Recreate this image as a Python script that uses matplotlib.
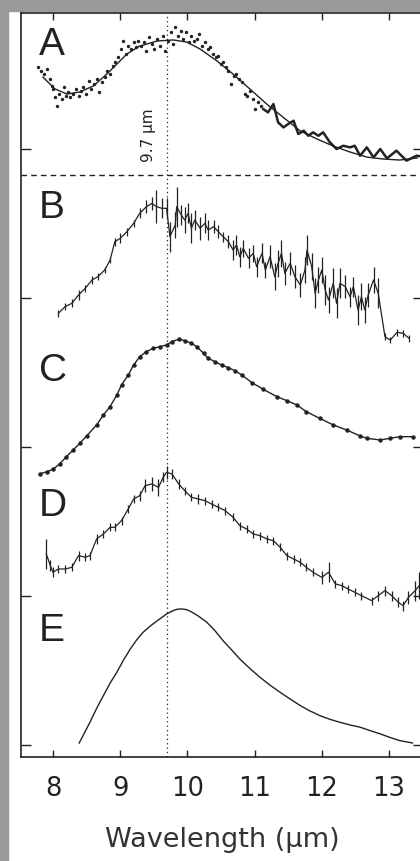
import numpy as np
import matplotlib
matplotlib.use("Agg")
import matplotlib.pyplot as plt
from matplotlib.patches import Rectangle

# --- data (wavelength in um, signal in panel units above each baseline) ---
panel_names = ["A", "B", "C", "D", "E"]
panel_base = [4.0, 3.0, 2.0, 1.0, 0.0]

a_fit_w = [7.85, 8.03, 8.21, 8.40, 8.60, 8.80, 8.95, 9.10, 9.29, 9.55, 9.79, 9.99, 10.19,
           10.44, 10.68, 10.93, 11.18, 11.42, 11.68, 11.93, 12.17, 12.42, 12.67, 12.91, 13.16, 13.42]
a_fit_v = [0.483, 0.403, 0.369, 0.383, 0.423, 0.503, 0.570, 0.638, 0.691, 0.725, 0.732, 0.718, 0.671,
           0.591, 0.503, 0.403, 0.302, 0.215, 0.121, 0.067, 0.020, -0.020, -0.054, -0.067, -0.074, -0.060]

a_dot_w = [7.78, 7.82, 7.86, 7.91, 7.95, 7.98, 8.00, 8.03, 8.06, 8.09, 8.13, 8.16, 8.19, 8.23, 8.26,
           8.30, 8.34, 8.38, 8.41, 8.45, 8.49, 8.53, 8.57, 8.61, 8.65, 8.69, 8.73, 8.77, 8.81, 8.85,
           8.89, 8.93, 8.97, 9.01, 9.04, 9.08, 9.12, 9.16, 9.20, 9.24, 9.27, 9.31, 9.35, 9.39, 9.43,
           9.47, 9.51, 9.55, 9.59, 9.63, 9.67, 9.71, 9.75, 9.79, 9.82, 9.86, 9.90, 9.94, 9.98, 10.02,
           10.06, 10.10, 10.14, 10.18, 10.22, 10.26, 10.30, 10.34, 10.38, 10.42, 10.46, 10.50, 10.53,
           10.57, 10.61, 10.65, 10.69, 10.73, 10.77, 10.81, 10.85, 10.89, 10.93, 10.97, 11.01, 11.05, 11.09]
a_dot_v = [0.548, 0.526, 0.503, 0.537, 0.470, 0.425, 0.403, 0.347, 0.291, 0.369, 0.336, 0.414, 0.358,
           0.380, 0.347, 0.369, 0.403, 0.358, 0.391, 0.414, 0.369, 0.459, 0.403, 0.436, 0.470, 0.380,
           0.447, 0.481, 0.526, 0.503, 0.559, 0.582, 0.615, 0.671, 0.727, 0.638, 0.694, 0.671, 0.716,
           0.682, 0.727, 0.694, 0.716, 0.660, 0.749, 0.705, 0.671, 0.738, 0.694, 0.761, 0.660, 0.727,
           0.783, 0.705, 0.817, 0.761, 0.794, 0.738, 0.783, 0.716, 0.761, 0.727, 0.738, 0.772, 0.694,
           0.716, 0.671, 0.682, 0.638, 0.615, 0.626, 0.570, 0.582, 0.548, 0.526, 0.436, 0.492, 0.503,
           0.470, 0.447, 0.369, 0.358, 0.391, 0.336, 0.268, 0.313, 0.291]

a_line_w = [11.13, 11.20, 11.28, 11.35, 11.43, 11.50, 11.58, 11.65, 11.73, 11.80, 11.87, 11.95, 12.02,
            12.12, 12.22, 12.32, 12.42, 12.49, 12.57, 12.67, 12.77, 12.87, 12.97, 13.11, 13.26, 13.41, 13.47]
a_line_v = [0.268, 0.246, 0.302, 0.179, 0.145, 0.168, 0.190, 0.101, 0.123, 0.089, 0.112, 0.089, 0.112,
            0.045, 0.000, 0.022, 0.011, 0.022, -0.045, 0.011, -0.056, 0.000, -0.063, -0.011, -0.078, -0.045, -0.049]

b_w = [8.08, 8.18, 8.28, 8.38, 8.48, 8.58, 8.67, 8.77, 8.85, 8.92, 9.00, 9.10, 9.20, 9.29, 9.39, 9.47,
       9.54, 9.62, 9.69, 9.74, 9.82, 9.84, 9.91, 9.96, 10.01, 10.06, 10.11, 10.19, 10.26, 10.31, 10.39,
       10.46, 10.53, 10.61, 10.68, 10.73, 10.78, 10.83, 10.91, 10.98, 11.03, 11.11, 11.16, 11.23, 11.30,
       11.35, 11.40, 11.45, 11.53, 11.60, 11.68, 11.75, 11.78, 11.85, 11.90, 11.95, 12.00, 12.05, 12.10,
       12.17, 12.22, 12.27, 12.35, 12.42, 12.47, 12.54, 12.59, 12.64, 12.69, 12.77, 12.84, 12.94, 13.02,
       13.12, 13.21, 13.30]
b_v = [-0.103, -0.058, -0.036, 0.020, 0.065, 0.121, 0.143, 0.188, 0.255, 0.378, 0.400, 0.445, 0.501,
       0.568, 0.613, 0.635, 0.613, 0.602, 0.602, 0.412, 0.490, 0.613, 0.557, 0.523, 0.568, 0.468, 0.523,
       0.468, 0.501, 0.456, 0.479, 0.445, 0.412, 0.378, 0.322, 0.356, 0.277, 0.333, 0.266, 0.300, 0.210,
       0.300, 0.188, 0.277, 0.143, 0.233, 0.300, 0.166, 0.233, 0.143, 0.087, 0.188, 0.322, 0.210, 0.031,
       0.121, 0.188, 0.054, -0.013, 0.098, -0.036, 0.098, 0.076, 0.009, 0.076, -0.081, 0.009, -0.081,
       0.020, 0.121, 0.031, -0.260, -0.282, -0.230, -0.237, -0.271]
b_err = [0.022, 0.022, 0.027, 0.034, 0.022, 0.027, 0.022, 0.022, 0.022, 0.027, 0.034, 0.027, 0.022,
         0.034, 0.045, 0.045, 0.112, 0.067, 0.067, 0.100, 0.089, 0.134, 0.067, 0.089, 0.067, 0.100,
         0.067, 0.078, 0.067, 0.067, 0.045, 0.045, 0.034, 0.045, 0.067, 0.067, 0.067, 0.056, 0.067,
         0.056, 0.067, 0.067, 0.056, 0.078, 0.089, 0.089, 0.089, 0.078, 0.078, 0.078, 0.078, 0.089,
         0.100, 0.089, 0.100, 0.089, 0.089, 0.100, 0.089, 0.100, 0.100, 0.100, 0.078, 0.067, 0.067,
         0.100, 0.089, 0.089, 0.078, 0.089, 0.100, 0.022, 0.022, 0.022, 0.022, 0.022]

c_w = [7.80, 7.91, 8.00, 8.10, 8.20, 8.30, 8.40, 8.50, 8.65, 8.75, 8.85, 8.95, 9.02, 9.12, 9.20, 9.29,
       9.39, 9.49, 9.59, 9.69, 9.77, 9.87, 9.96, 10.06, 10.14, 10.24, 10.31, 10.41, 10.51, 10.61, 10.71,
       10.81, 10.96, 11.13, 11.33, 11.48, 11.63, 11.77, 11.97, 12.17, 12.37, 12.57, 12.67, 12.87, 13.01,
       13.16, 13.36]
c_v = [-0.181, -0.166, -0.150, -0.114, -0.065, -0.020, 0.025, 0.074, 0.148, 0.215, 0.271, 0.349, 0.416,
       0.483, 0.550, 0.606, 0.640, 0.662, 0.673, 0.685, 0.707, 0.723, 0.714, 0.696, 0.673, 0.629, 0.595,
       0.573, 0.550, 0.532, 0.512, 0.483, 0.432, 0.387, 0.338, 0.311, 0.282, 0.237, 0.192, 0.148, 0.114,
       0.074, 0.058, 0.047, 0.058, 0.069, 0.069]

d_w = [7.90, 7.96, 8.00, 8.08, 8.18, 8.28, 8.38, 8.48, 8.55, 8.65, 8.75, 8.85, 8.92, 9.02, 9.12, 9.20,
       9.29, 9.37, 9.47, 9.57, 9.64, 9.69, 9.77, 9.87, 9.96, 10.06, 10.16, 10.26, 10.36, 10.46, 10.56,
       10.68, 10.78, 10.88, 10.98, 11.08, 11.18, 11.28, 11.38, 11.48, 11.58, 11.68, 11.77, 11.87, 12.00,
       12.10, 12.20, 12.30, 12.39, 12.49, 12.59, 12.74, 12.84, 12.94, 13.04, 13.14, 13.21, 13.29, 13.39, 13.45]
d_v = [0.283, 0.204, 0.159, 0.181, 0.181, 0.192, 0.271, 0.260, 0.271, 0.383, 0.416, 0.461, 0.461, 0.506,
       0.584, 0.651, 0.673, 0.740, 0.752, 0.729, 0.796, 0.830, 0.819, 0.752, 0.707, 0.662, 0.651, 0.640,
       0.617, 0.595, 0.573, 0.528, 0.472, 0.450, 0.416, 0.405, 0.383, 0.371, 0.327, 0.271, 0.248, 0.226,
       0.192, 0.159, 0.125, 0.159, 0.081, 0.069, 0.047, 0.025, 0.002, -0.031, 0.002, 0.036, 0.002, -0.043,
       -0.065, -0.009, 0.036, 0.069]
d_err = [0.100, 0.034, 0.034, 0.027, 0.027, 0.027, 0.034, 0.027, 0.027, 0.034, 0.027, 0.027, 0.027,
         0.027, 0.027, 0.027, 0.034, 0.045, 0.045, 0.056, 0.034, 0.045, 0.034, 0.034, 0.027, 0.027,
         0.034, 0.027, 0.027, 0.027, 0.027, 0.027, 0.027, 0.027, 0.027, 0.027, 0.027, 0.027, 0.027,
         0.027, 0.027, 0.027, 0.027, 0.027, 0.045, 0.067, 0.027, 0.027, 0.027, 0.027, 0.027, 0.027,
         0.034, 0.034, 0.034, 0.034, 0.034, 0.045, 0.067, 0.089]

e_w = [8.39, 8.55, 8.65, 8.75, 8.85, 8.95, 9.05, 9.15, 9.25, 9.34, 9.47, 9.59, 9.69, 9.79, 9.84, 9.91,
       9.99, 10.06, 10.16, 10.29, 10.41, 10.53, 10.66, 10.78, 10.93, 11.08, 11.23, 11.38, 11.53, 11.68,
       11.82, 11.97, 12.12, 12.27, 12.42, 12.57, 12.72, 12.87, 13.01, 13.16, 13.35]
e_v = [0.013, 0.152, 0.246, 0.331, 0.415, 0.488, 0.570, 0.644, 0.708, 0.756, 0.806, 0.846, 0.879, 0.902,
       0.910, 0.913, 0.908, 0.893, 0.866, 0.823, 0.767, 0.700, 0.637, 0.577, 0.513, 0.454, 0.401, 0.353,
       0.308, 0.264, 0.229, 0.197, 0.172, 0.152, 0.134, 0.119, 0.096, 0.074, 0.051, 0.029, 0.013]

x_ticks = [8, 9, 10, 11, 12, 13]
peak_w = 9.7
split_level = 3.826

ink = "#222222"
plt.rcParams['font.family'] = ['DejaVu Sans']

fig = plt.figure(figsize=(4.2, 8.62), dpi=100)
fig.patch.set_facecolor("white")
ax = fig.add_axes([21 / 420, 104 / 862, 402 / 420, 744 / 862])
ax.set_facecolor("white")

# gray scan border
fig.add_artist(Rectangle((0, 0), 8 / 420, 1, transform=fig.transFigure, color="#9a9a9a", zorder=0))
fig.add_artist(Rectangle((0, 1 - 12 / 862), 1, 12 / 862, transform=fig.transFigure, color="#9a9a9a", zorder=0))

aw = np.array
base = dict(zip(panel_names, panel_base))

ax.plot(a_fit_w, aw(a_fit_v) + base["A"], color=ink, lw=1.0)
ax.scatter(a_dot_w, aw(a_dot_v) + base["A"], s=6, color=ink, lw=0)
ax.plot(a_line_w, aw(a_line_v) + base["A"], color=ink, lw=1.8)

ax.errorbar(b_w, aw(b_v) + base["B"], yerr=b_err, color=ink, lw=0.9, elinewidth=0.9, capsize=0)
ax.plot(c_w, aw(c_v) + base["C"], color=ink, lw=1.0, marker="o", ms=2.2)
ax.errorbar(d_w, aw(d_v) + base["D"], yerr=d_err, color=ink, lw=0.9, elinewidth=0.9, capsize=0)
ax.plot(e_w, aw(e_v) + base["E"], color=ink, lw=1.0)

ax.axvline(peak_w, color=ink, lw=0.9, ls=(0, (1, 2.5)))
ax.axhline(split_level, color=ink, lw=1.0, ls=(0, (4, 3)))
ax.text(peak_w - 0.28, 4.10, "9.7 \u00b5m", rotation=90, ha="center", va="center",
        fontsize=11, color=ink)

for name, b in zip(panel_names, panel_base):
    lift = {"A": 0.705, "B": 0.611, "C": 0.517, "D": 0.611, "E": 0.772}[name]
    ax.text(7.79, b + lift, name, fontsize=28, color=ink, ha="left", va="center",
            family=["Liberation Sans", "DejaVu Sans"])

ax.set_xlim(7.524, 13.506)
ax.set_ylim(-0.081, 4.913)
ax.set_xticks(x_ticks)
ax.set_yticks(panel_base)
ax.set_yticklabels([])
ax.tick_params(axis="x", direction="in", length=5, width=1, top=True, pad=13,
               labelsize=18.5, colors=ink)
ax.tick_params(axis="y", direction="in", length=7, width=1, right=True, colors=ink)
for s in ax.spines.values():
    s.set_color(ink)
    s.set_linewidth(1.2)
ax.set_xlabel("Wavelength (\u00b5m)", fontsize=19.5, color="#333333", labelpad=18)

fig.savefig("out.png", dpi=100)
